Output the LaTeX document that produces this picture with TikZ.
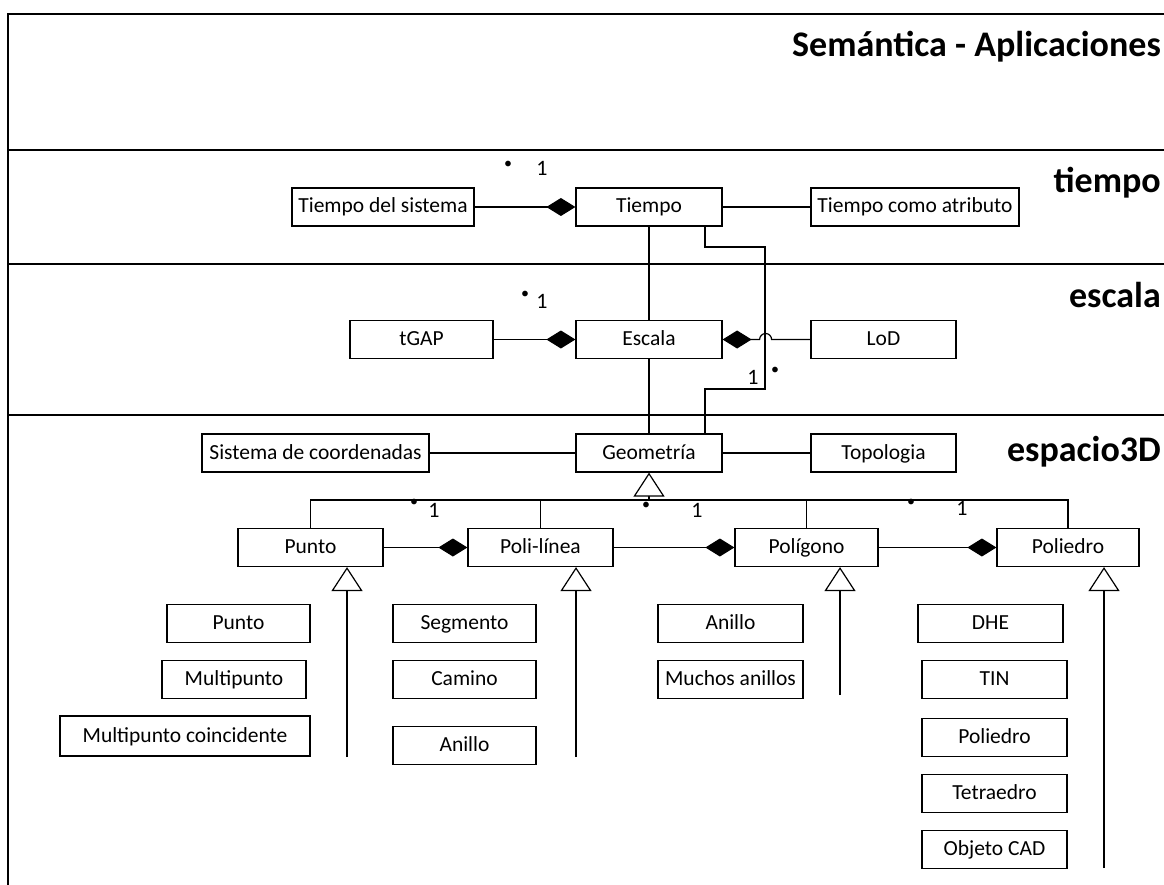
\documentclass[tikz,border=0pt]{standalone}
\usepackage{fontspec}
\setmainfont{Carlito}
\usetikzlibrary{arrows.meta}
\begin{document}
\begin{tikzpicture}[x=1pt,y=-1pt,
  box/.style={draw,line width=1.2pt,minimum height=38pt,inner sep=0pt,text height=12pt,text depth=0pt,font=\fontsize{21.5}{23}\selectfont},
  conn/.style={line width=1.2pt},
  comp/.style={conn,-{Diamond[length=29pt,width=18pt]}},
  gen/.style={conn,-{Triangle[length=24pt,width=31pt,fill=white]}},
  title/.style={anchor=base east,inner sep=0pt,font=\fontsize{36}{40}\selectfont\bfseries},
  mult/.style={inner sep=0pt,font=\fontsize{22}{22}\selectfont},
  star/.style={inner sep=0pt,font=\fontsize{16}{16}\selectfont},
  frame/.style={line width=2.2pt},
  sect/.style={line width=1.5pt}]
\useasboundingbox (0,0) rectangle (1164,885);
% frame and bands
\draw[frame] (8,885) -- (8,14) -- (1164,14);
\draw[sect] (8,150) -- (1164,150);
\draw[sect] (8,264) -- (1164,264);
\draw[sect] (8,415) -- (1164,415);
% band titles
\node[title] (tsem) at (1161,57) {Semántica - Aplicaciones};
\node[title] (ttie) at (1161,193) {tiempo};
\node[title] (tesc) at (1161,307) {escala};
\node[title] (tesp) at (1161,461) {espacio3D};
% tiempo band
\node[box,minimum width=182pt] (tsis) at (383,207) {Tiempo del sistema};
\node[box,minimum width=146pt] (tiempo) at (649,207) {Tiempo};
\node[box,minimum width=208pt] (tatr) at (915,207) {Tiempo como atributo};
% escala band
\node[box,minimum width=143pt] (tgap) at (421.5,339.5) {tGAP};
\node[box,minimum width=146pt] (escala) at (649,339.5) {Escala};
\node[box,minimum width=145pt] (lod) at (883.5,339.5) {LoD};
% espacio band
\node[box,minimum width=227pt] (sisc) at (315.5,453) {Sistema de coordenadas};
\node[box,minimum width=146pt] (geom) at (649,453) {Geometría};
\node[box,minimum width=145pt] (topo) at (883.5,453) {Topologia};
\node[box,minimum width=145pt] (punto) at (310.5,547.5) {Punto};
\node[box,minimum width=145pt] (poli) at (540.5,547.5) {Poli-línea};
\node[box,minimum width=143pt] (polg) at (806.5,547.5) {Polígono};
\node[box,minimum width=142pt] (polh) at (1068,547.5) {Poliedro};
% sub boxes
\node[box,minimum width=143pt] (sp) at (238.5,623.5) {Punto};
\node[box,minimum width=144pt] (smp) at (234,679.5) {Multipunto};
\node[box,minimum width=250pt,minimum height=40pt] (smpc) at (185,736) {Multipunto coincidente};
\node[box,minimum width=143pt] (sseg) at (464.5,623.5) {Segmento};
\node[box,minimum width=143pt] (scam) at (464.5,679.5) {Camino};
\node[box,minimum width=143pt] (sani) at (464.5,745.5) {Anillo};
\node[box,minimum width=145pt] (sani2) at (730.5,623.5) {Anillo};
\node[box,minimum width=145pt] (smuch) at (730.5,679.5) {Muchos anillos};
\node[box,minimum width=145pt] (sdhe) at (990.5,623.5) {DHE};
\node[box,minimum width=145pt] (stin) at (994.5,679.5) {TIN};
\node[box,minimum width=145pt] (spol) at (994.5,737.5) {Poliedro};
\node[box,minimum width=145pt] (stet) at (994.5,793.5) {Tetraedro};
\node[box,minimum width=145pt] (scad) at (994.5,849.5) {Objeto CAD};
% connectors tiempo
\draw[comp] (tsis) -- (tiempo);
\draw[conn] (tiempo) -- (tatr);
\draw[conn] (tiempo) -- (escala);
\coordinate (r0) at (705,0);
\coordinate (r1) at (765,247);
\coordinate (r2) at (765,389);
\draw[conn] (tiempo.south -| r0) |- (r1) -- (r2) -| (geom.north -| r0);
% connectors escala
\draw[comp] (tgap) -- (escala);
\draw[conn,{Diamond[length=29pt,width=18pt]}-] (escala.east) -- ++(37,0) arc[start angle=180,end angle=0,radius=6pt] -- (lod.west);
\draw[conn] (escala) -- (geom);
% connectors espacio
\draw[conn] (sisc) -- (geom);
\draw[conn] (geom) -- (topo);
\coordinate (bus) at (649,500);
\draw[gen] (bus) -- (geom.south);
\draw[conn] (punto.north) |- (bus) -| (polh.north);
\draw[conn] (poli.north) -- (poli.north |- bus);
\draw[conn] (polg.north) -- (polg.north |- bus);
\draw[comp] (punto) -- (poli);
\draw[comp] (poli) -- (polg);
\draw[comp] (polg) -- (polh);
\coordinate (e1) at (347,757);
\coordinate (e2) at (576,757);
\coordinate (e3) at (840,695);
\coordinate (e4) at (1104,868);
\draw[gen] (e1) -- (e1 |- punto.south);
\draw[gen] (e2) -- (e2 |- poli.south);
\draw[gen] (e3) -- (e3 |- polg.south);
\draw[gen] (e4) -- (e4 |- polh.south);
% multiplicities
\node[star] (s1) at (508,165) {\textbullet};
\node[mult] (m1) at (542,168) {1};
\node[star] (s2) at (525,295) {\textbullet};
\node[mult] (m2) at (542,301) {1};
\node[mult] (m3) at (753,377) {1};
\node[star] (s3) at (775,371) {\textbullet};
\node[star] (s4) at (414,503) {\textbullet};
\node[mult] (m4) at (434,510) {1};
\node[star] (s5) at (646,506) {\textbullet};
\node[mult] (m5) at (697,510) {1};
\node[star] (s6) at (911,503) {\textbullet};
\node[mult] (m6) at (962,508) {1};
\end{tikzpicture}
\end{document}
